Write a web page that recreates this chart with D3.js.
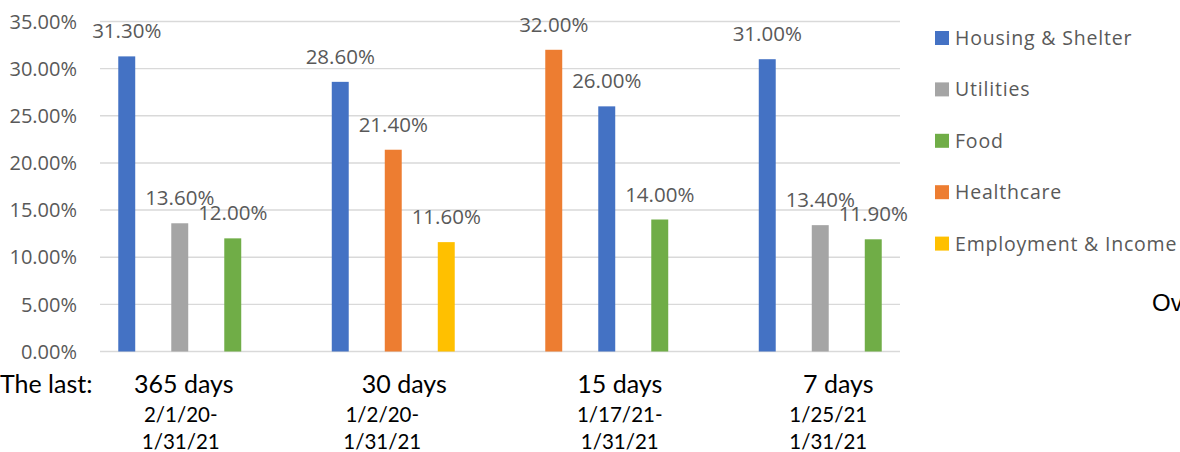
<!DOCTYPE html>
<meta charset="utf-8">
<style>
body { margin: 0; background: #fff; }
svg { display: block; }
.val, .tick text, .legend text { font-family: "Open Sans", sans-serif; fill: #595959; }
.cat { font-family: Lato, "Open Sans", sans-serif; fill: #000; }
</style>
<body>
<script src="https://d3js.org/d3.v7.min.js"></script>
<script>

var width = 1180,
    height = 452;

// periods on the x axis
var periods = ["365 days", "30 days", "15 days", "7 days"];
var dateFrom = ["2/1/20-", "1/2/20-", "1/17/21-", "1/25/21"];
var dateTo = ["1/31/21", "1/31/21", "1/31/21", "1/31/21"];

var seriesNames = ["Housing & Shelter", "Utilities", "Food", "Healthcare", "Employment & Income"];
var seriesColors = ["#4472C4", "#A5A5A5", "#70AD47", "#ED7D31", "#FFC000"];

// three top needs per period, in the order drawn
var periodNeeds = [
  ["Housing & Shelter", "Utilities", "Food"],
  ["Housing & Shelter", "Healthcare", "Employment & Income"],
  ["Healthcare", "Housing & Shelter", "Food"],
  ["Housing & Shelter", "Utilities", "Food"]
];
var periodValues = [
  [31.3, 13.6, 12.0],
  [28.6, 21.4, 11.6],
  [32.0, 26.0, 14.0],
  [31.0, 13.4, 11.9]
];

var yTicks = [0, 5, 10, 15, 20, 25, 30, 35];

var color = d3.scaleOrdinal().domain(seriesNames).range(seriesColors);

var plotLeft = 100, plotRight = 900;

var y = d3.scaleLinear()
    .domain([0, 35])
    .range([351.5, 21.5]);

var x0 = d3.scaleBand()
    .domain(periods)
    .range([73, 927]);

var x1 = d3.scaleBand()
    .domain([0, 1, 2])
    .range([0, x0.bandwidth()])
    .paddingInner(0.68)
    .paddingOuter(0.854);

var fmt = function(v) { return v.toFixed(2) + "%"; };

var svg = d3.select("body").append("svg")
    .attr("width", width)
    .attr("height", height);

// gridlines + y tick labels
var yAxis = svg.append("g")
    .attr("class", "tick");

yAxis.selectAll("line")
    .data(yTicks)
  .enter().append("line")
    .attr("x1", plotLeft)
    .attr("x2", plotRight)
    .attr("y1", function(d) { return y(d); })
    .attr("y2", function(d) { return y(d); })
    .style("stroke", "#d9d9d9")
    .style("stroke-width", 1.4);

yAxis.selectAll("text")
    .data(yTicks)
  .enter().append("text")
    .attr("x", 77)
    .attr("y", function(d) { return y(d); })
    .attr("dy", "0.36em")
    .attr("text-anchor", "end")
    .style("font-size", "20px")
    .text(fmt);

// bars
var groups = svg.selectAll(".group")
    .data(periods)
  .enter().append("g")
    .attr("class", "group")
    .attr("transform", function(d) { return "translate(" + x0(d) + ",0)"; });

groups.selectAll("rect")
    .data(function(d, i) {
      return periodValues[i].map(function(v, j) { return { k: j, name: periodNeeds[i][j], value: v }; });
    })
  .enter().append("rect")
    .attr("x", function(d) { return x1(d.k); })
    .attr("width", x1.bandwidth())
    .attr("y", function(d) { return y(d.value); })
    .attr("height", function(d) { return y(0) - y(d.value); })
    .style("fill", function(d) { return color(d.name); });

groups.selectAll(".val")
    .data(function(d, i) {
      return periodValues[i].map(function(v, j) { return { k: j, value: v }; });
    })
  .enter().append("text")
    .attr("class", "val")
    .attr("x", function(d) { return x1(d.k) + x1.bandwidth() / 2; })
    .attr("y", function(d) { return y(d.value) - 18; })
    .attr("text-anchor", "middle")
    .style("font-size", "20.5px")
    .text(function(d) { return fmt(d.value); });

// category labels under the axis
var labelNudge = [4, 11, 13, 18];
var dateNudge = [1, -11, 13, 8];

svg.append("text")
    .attr("class", "cat")
    .attr("x", 0)
    .attr("y", 393)
    .style("font-size", "25px")
    .text("The last:");

svg.selectAll(".period")
    .data(periods)
  .enter().append("text")
    .attr("class", "cat period")
    .attr("x", function(d, i) { return x0(d) + x0.bandwidth() / 2 + labelNudge[i]; })
    .attr("y", 393)
    .attr("text-anchor", "middle")
    .style("font-size", "25px")
    .text(function(d) { return d; });

svg.selectAll(".from")
    .data(dateFrom)
  .enter().append("text")
    .attr("class", "cat from")
    .attr("x", function(d, i) { return x0(periods[i]) + x0.bandwidth() / 2 + dateNudge[i]; })
    .attr("y", 422)
    .attr("text-anchor", "middle")
    .style("font-size", "20.5px")
    .text(function(d) { return d; });

svg.selectAll(".to")
    .data(dateTo)
  .enter().append("text")
    .attr("class", "cat to")
    .attr("x", function(d, i) { return x0(periods[i]) + x0.bandwidth() / 2 + dateNudge[i]; })
    .attr("y", 449)
    .attr("text-anchor", "middle")
    .style("font-size", "20.5px")
    .text(function(d) { return d; });

// legend
var legend = svg.append("g")
    .attr("class", "legend")
    .selectAll("g")
    .data(seriesNames)
  .enter().append("g")
    .attr("transform", function(d, i) { return "translate(935," + (38 + i * 51.4) + ")"; });

legend.append("rect")
    .attr("y", -7)
    .attr("width", 14)
    .attr("height", 14)
    .style("fill", function(d) { return color(d); });

legend.append("text")
    .attr("x", 20)
    .attr("dy", "0.36em")
    .style("font-size", "19.5px")
    .style("letter-spacing", "0.8px")
    .text(function(d) { return d; });

// title text that runs off the right edge, as in the source
svg.append("text")
    .attr("x", 1152)
    .attr("y", 311)
    .style("font-family", "'Liberation Sans', Arial, sans-serif")
    .style("font-size", "24px")
    .style("fill", "#000")
    .text("Overall");

</script>
